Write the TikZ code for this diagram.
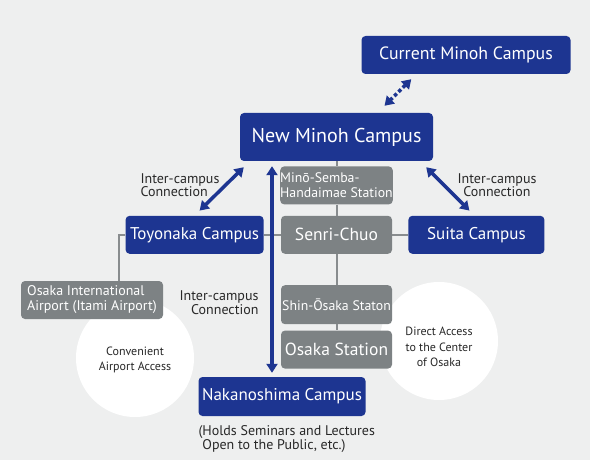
\documentclass[tikz,border=0pt]{standalone}
\usepackage{fontspec}
\setmainfont{PT Sans}
\usetikzlibrary{arrows.meta, positioning}
\definecolor{campusblue}{RGB}{29,53,145}
\definecolor{stationgray}{RGB}{125,130,132}
\definecolor{bggray}{RGB}{238,239,239}
\definecolor{wiregray}{RGB}{136,140,142}
\definecolor{notecolor}{RGB}{40,40,40}
\tikzset{
  campus/.style    = {fill=campusblue, rounded corners=4pt, text=white, inner sep=0pt,
                      minimum height=38pt, font=\fontsize{17}{19}\selectfont},
  station/.style   = {fill=stationgray, rounded corners=4pt, text=white, inner sep=0pt,
                      minimum width=111pt, minimum height=38pt, align=left},
  wire/.style      = {draw=wiregray, line width=2pt},
  arrow/.style     = {{Triangle[width=11pt,length=9pt]}-{Triangle[width=11pt,length=9pt]},
                      line width=3.5pt, color=campusblue},
  dasharrow/.style = {arrow, dash pattern=on 3.5pt off 2.5pt},
  spot/.style      = {circle, fill=white, inner sep=0pt, minimum size=118pt},
  spottext/.style  = {align=center, text=notecolor, font=\fontsize{12}{15.5}\selectfont},
  note/.style      = {text=notecolor, font=\fontsize{14}{13.5}\selectfont},
}
\newcommand{\smallstation}{\fontsize{13.8}{14.5}\selectfont}
\newcommand{\bigstation}{\fontsize{17.5}{20}\selectfont}

\begin{document}
\begin{tikzpicture}[x=1pt, y=-1pt]
  \useasboundingbox (0,0) rectangle (590,460);
  \fill[bggray] (0,0) rectangle (590,460);
  % white spots behind the boxes
  \node[spot] (airportspot) at (135,358) {};
  \node[spot] (centerspot) at (439,341) {};
  \node[spottext] (airporttext) at ([yshift=-2pt]airportspot) {Convenient\\Airport Access};
  \node[spottext] (centertext) at ([yshift=-6pt]centerspot) {Direct Access\\to the Center\\of Osaka};
  % campuses and stations
  \node[campus, minimum width=209pt, font=\fontsize{17.8}{19}\selectfont] (curminoh) at (466,55)
    {Current Minoh Campus};
  \node[campus, minimum width=193pt, minimum height=48pt, font=\fontsize{20}{22}\selectfont]
    (newminoh) at (336.5,137) {New Minoh Campus};
  \node[station, font=\smallstation, below=5pt of newminoh] (semba) {Min\=o-Semba-\\Handaimae Station};
  \node[station, font=\bigstation, below=11pt of semba] (senri) {Senri-Chuo};
  \node[campus, minimum width=138pt, left=17pt of senri] (toyonaka) {Toyonaka Campus};
  \node[campus, minimum width=136pt, right=16pt of senri] (suita) {Suita Campus};
  \node[station, font=\smallstation, minimum height=39pt, below=31pt of senri] (shinosaka)
    {Shin-\=Osaka Staton};
  \node[station, font=\bigstation, below=6pt of shinosaka] (osaka) {Osaka Station};
  \node[campus, minimum width=167pt, minimum height=39pt] (nakanoshima) at (282,396.5)
    {Nakanoshima Campus};
  \node[station, font=\fontsize{14}{15}\selectfont, minimum width=142pt] (itami) at (92,300)
    {Osaka International\\Airport (Itami Airport)};
  % texts
  \node[note, anchor=west, align=left] (leftnote) at (137,185) {Inter-campus\\Connection};
  \node[note, align=center] (rightnote) at (497,185) {Inter-campus\\Connection};
  \node[note, anchor=east, align=right] (midnote) at (262,302.5) {Inter-campus\\Connection};
  \node[note, anchor=north west, align=left, font=\fontsize{14}{14}\selectfont] (caption) at (195,422)
    {(Holds Seminars and Lectures\\\phantom{(}Open to the Public, etc.)};
  % rail lines
  \coordinate (itamitop) at ([xshift=27pt]itami.north);
  \draw[wire] (newminoh) -- (semba);
  \draw[wire] (semba) -- (senri);
  \draw[wire] (senri) -- (shinosaka);
  \draw[wire] (shinosaka) -- (osaka);
  \draw[wire] (toyonaka) -- (senri);
  \draw[wire] (senri) -- (suita);
  \draw[wire] (toyonaka.west) -| (itamitop);
  % connections
  \coordinate (lowtip) at ([xshift=-10pt]nakanoshima.north);
  \draw[dasharrow] ([shift={(50,5)}]curminoh.south west) -- ([shift={(48,-7)}]newminoh.north);
  \draw[arrow] ([shift={(4,6)}]newminoh.south west) -- ([shift={(5,-5)}]toyonaka.north);
  \draw[arrow] ([shift={(-7,6)}]newminoh.south east) -- ([shift={(-7,-5)}]suita.north);
  \draw[arrow, shorten <=4pt, shorten >=5pt] (lowtip) -- (lowtip |- newminoh.south);
\end{tikzpicture}
\end{document}
